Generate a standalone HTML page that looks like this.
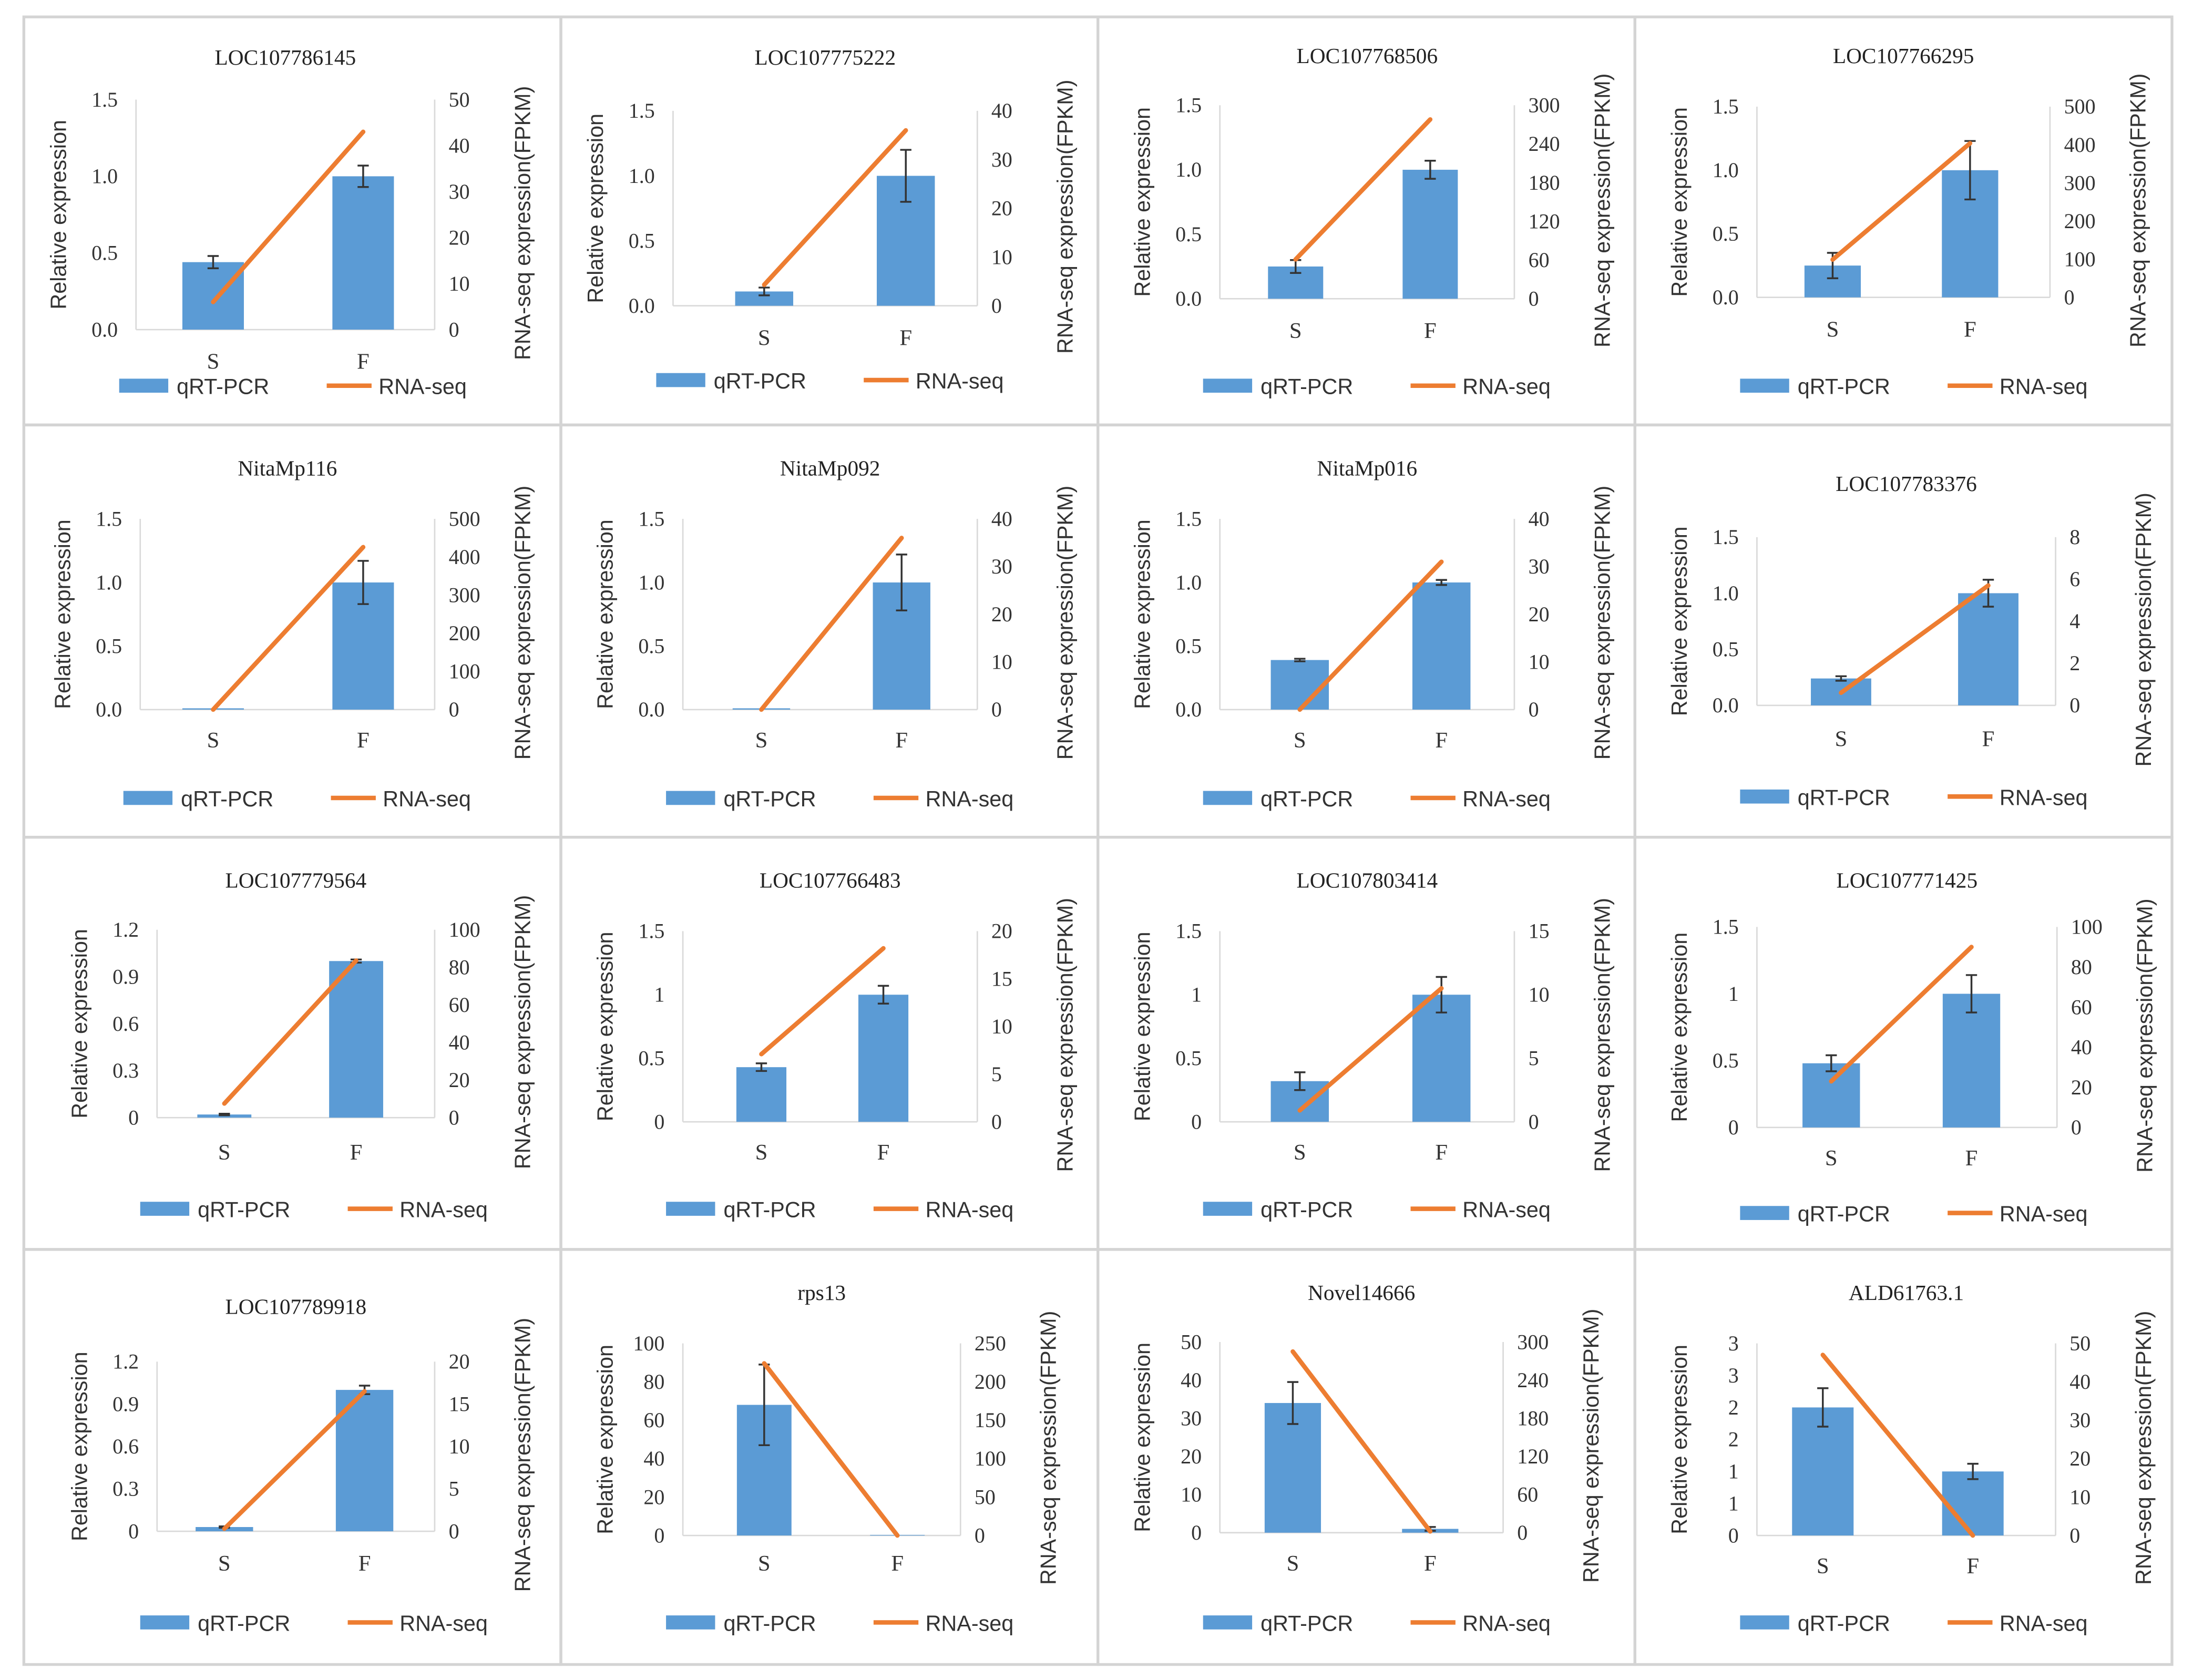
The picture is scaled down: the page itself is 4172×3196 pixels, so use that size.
<!DOCTYPE html>
<html><head><meta charset="utf-8">
<style>
html,body{margin:0;padding:0;background:#fff;}
svg{display:block;}
.ser{font-family:"Liberation Serif",serif;}
.san{font-family:"Liberation Sans",sans-serif;}
</style></head>
<body>
<svg id="fig" xmlns="http://www.w3.org/2000/svg" width="4172" height="3196" viewBox="0 0 1564 1198">
<rect x="0" y="0" width="1564" height="1198" fill="#fff"/>
</svg>
<script>
// ---- data ----
const titles = ["LOC107786145","LOC107775222","LOC107768506","LOC107766295","NitaMp116","NitaMp092","NitaMp016","LOC107783376","LOC107779564","LOC107766483","LOC107803414","LOC107771425","LOC107789918","rps13","Novel14666","ALD61763.1"];
const categories = ["S","F"];
const qpcrS = [0.44,0.11,0.25,0.25,0.01,0.01,0.39,0.24,0.02,0.43,0.32,0.48,0.03,68,34,2.0];
const qpcrF = [1.0,1.0,1.0,1.0,1.0,1.0,1.0,1.0,1.0,1.0,1.0,1.0,1.0,0.3,1.0,1.0];
const errS = [0.04,0.03,0.05,0.1,0,0,0.01,0.02,0.005,0.03,0.07,0.06,0.005,21,5.5,0.3];
const errF = [0.07,0.2,0.07,0.23,0.17,0.22,0.02,0.12,0.01,0.07,0.14,0.14,0.03,0,0.5,0.12];
const rnaS = [6,4.3,61,99,0,0,0,0.6,7.5,7.1,0.9,23,0.3,224,285,47];
const rnaF = [43,36,278,404,426,36,31,5.7,83.6,18.2,10.5,90,16.5,0,2,0];
const leftMax = [1.5,1.5,1.5,1.5,1.5,1.5,1.5,1.5,1.2,1.5,1.5,1.5,1.2,100,50,3];
const leftStep = [0.5,0.5,0.5,0.5,0.5,0.5,0.5,0.5,0.3,0.5,0.5,0.5,0.3,20,10,0.5];
const leftLabels = [
 ["0.0","0.5","1.0","1.5"],["0.0","0.5","1.0","1.5"],["0.0","0.5","1.0","1.5"],["0.0","0.5","1.0","1.5"],
 ["0.0","0.5","1.0","1.5"],["0.0","0.5","1.0","1.5"],["0.0","0.5","1.0","1.5"],["0.0","0.5","1.0","1.5"],
 ["0","0.3","0.6","0.9","1.2"],["0","0.5","1","1.5"],["0","0.5","1","1.5"],["0","0.5","1","1.5"],
 ["0","0.3","0.6","0.9","1.2"],["0","20","40","60","80","100"],["0","10","20","30","40","50"],["0","1","1","2","2","3","3"]];
const rightMax = [50,40,300,500,500,40,40,8,100,20,15,100,20,250,300,50];
const rightStep = [10,10,60,100,100,10,10,2,20,5,5,20,5,50,60,10];
// ---- layout (pixel geometry, display units) ----
const L  = [97,480,870,1253,100,487,870,1253,112,487,870,1253,112,487,870,1253];
const R  = [310,697,1080,1462,310,697,1080,1466,310,697,1080,1467,310,685,1072,1466];
const T  = [71,79,75,76,370,370,370,383,663,664,664,661,971,958,957,958];
const B  = [235,218,213,212,506,506,506,503,797,800,800,804,1092,1095,1093,1095];
const CS = [152,545,924,1307,152,543,927,1313,160,543,927,1306,160,545,922,1300];
const CF = [259,646,1020,1405,259,643,1028,1418,254,630,1028,1406,260,640,1020,1407];
const TY = [41,41,40,40,334,334,334,345,628,628,628,628,932,922,922,922];
const XY = [258,241,236,235,528,528,528,527,822,822,822,826,1115,1115,1115,1117];
const LY = [275,271,275,275,569,569,569,568,862,862,862,865,1157,1157,1157,1157];

const svg = document.getElementById('fig');
const NS = "http://www.w3.org/2000/svg";
function mk(tag, attrs, parent){const e=document.createElementNS(NS,tag);for(const k in attrs)e.setAttribute(k,attrs[k]);(parent||svg).appendChild(e);return e;}

const colX=[17,400,783,1166,1549], rowY=[12,303,597,891,1187];
for(let r=0;r<4;r++)for(let c=0;c<4;c++){
  const b=mk('rect',{x:colX[c],y:rowY[r],width:colX[c+1]-colX[c],height:rowY[r+1]-rowY[r],fill:'none',stroke:'#d4d4d4','stroke-width':2});
  
  
}

for(let i=0;i<16;i++){
  const g=mk('g',{});
  
  
  const yL=v=>B[i]-(v/leftMax[i])*(B[i]-T[i]);
  const yR=v=>B[i]-(v/rightMax[i])*(B[i]-T[i]);
  const cx=[CS[i],CF[i]];
  const t=mk('text',{x:(L[i]+R[i])/2,y:TY[i]+5,'text-anchor':'middle','font-size':15.5,fill:'#222',class:'ser'},g);
  t.textContent=titles[i];
  
  
  const axs=[['left-axis',L[i]],['right-axis',R[i]]];
  for(const [n,x] of axs){const a=mk('line',{x1:x,y1:T[i],x2:x,y2:B[i],stroke:'#d9d9d9','stroke-width':1},g);}
  const xa=mk('line',{x1:L[i],y1:B[i],x2:R[i],y2:B[i],stroke:'#d9d9d9','stroke-width':1},g);
  
  
  const nl=Math.round(leftMax[i]/leftStep[i]);
  for(let k=0;k<=nl;k++){
    const tl=mk('text',{x:L[i]-13,y:yL(k*leftStep[i])+5,'text-anchor':'end','font-size':15,fill:'#333',class:'ser'},g);
    tl.textContent=leftLabels[i][k];
    
    
  }
  const nr=Math.round(rightMax[i]/rightStep[i]);
  for(let k=0;k<=nr;k++){
    const tr=mk('text',{x:R[i]+10,y:yR(k*rightStep[i])+5,'text-anchor':'start','font-size':15,fill:'#333',class:'ser'},g);
    tr.textContent=String(k*rightStep[i]);
    
    
  }
  const my=(T[i]+B[i])/2;
  const lt=mk('text',{x:0,y:0,transform:`translate(${L[i]-50},${my}) rotate(-90)`,'text-anchor':'middle','font-size':15.5,fill:'#333',class:'san'},g);
  lt.textContent='Relative expression';
  
  
  const rt=mk('text',{x:0,y:0,transform:`translate(${R[i]+68},${my+6}) rotate(-90)`,'text-anchor':'middle','font-size':15.5,fill:'#333',class:'san'},g);
  rt.textContent='RNA-seq expression(FPKM)';
  
  
  const vals=[qpcrS[i],qpcrF[i]], errs=[errS[i],errF[i]];
  const bw=(CF[i]-CS[i])*0.41;
  for(let j=0;j<2;j++){
    const y=yL(vals[j]);
    const bar=mk('rect',{x:cx[j]-bw/2,y:y,width:bw,height:B[i]-y,fill:'#5B9BD5'},g);
    
    
    if(errs[j]>0){
      const y1=yL(vals[j]+errs[j]), y2=yL(Math.max(0,vals[j]-errs[j]));
      const e=mk('path',{d:`M${cx[j]},${y1}V${y2}M${cx[j]-4},${y1}H${cx[j]+4}M${cx[j]-4},${y2}H${cx[j]+4}`,stroke:'#333','stroke-width':1.3,fill:'none'},g);
      
      
    }
    const xl=mk('text',{x:cx[j],y:XY[i]+5,'text-anchor':'middle','font-size':16,fill:'#333',class:'ser'},g);
    xl.textContent=categories[j];
    
    
  }
  const ln=mk('line',{x1:cx[0],y1:yR(rnaS[i]),x2:cx[1],y2:yR(rnaF[i]),stroke:'#ED7D31','stroke-width':3.2,'stroke-linecap':'round'},g);
  
  
  const lx=L[i]-12, ly=LY[i];
  const lb=mk('rect',{x:lx,y:ly-5,width:35,height:10,fill:'#5B9BD5'},g);
  
  
  const l1=mk('text',{x:lx+41,y:ly+6,'font-size':15.5,fill:'#333',class:'san'},g);
  l1.textContent='qRT-PCR';
  
  
  const ll=mk('line',{x1:lx+148,y1:ly,x2:lx+180,y2:ly,stroke:'#ED7D31','stroke-width':3.2},g);
  
  
  const l2=mk('text',{x:lx+185,y:ly+6,'font-size':15.5,fill:'#333',class:'san'},g);
  l2.textContent='RNA-seq';
  
  
}
</script>
</body></html>
